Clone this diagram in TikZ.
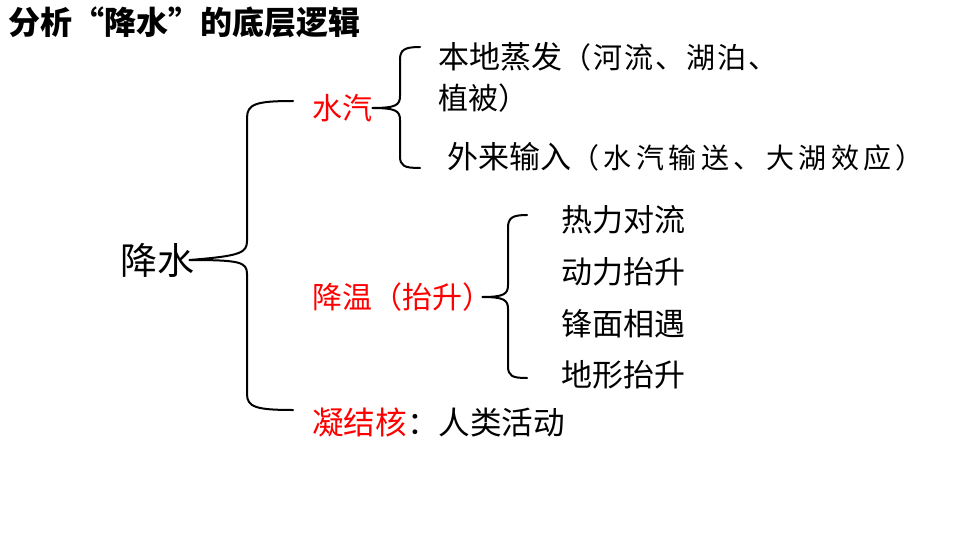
\documentclass[tikz,border=0pt]{standalone}
\usepackage{fontspec}
\setmainfont{Noto Sans CJK SC}
\usepackage{tikz}
\usetikzlibrary{calc}
\usetikzlibrary{positioning}

\begin{document}
\begin{tikzpicture}[x=1pt, y=-1pt,
    txt/.style={anchor=west, inner sep=0pt, font=\fontsize{31}{36}\selectfont},
    hot/.style={txt, text=red},
    brace/.style={line width=2pt, line cap=round, line join=round}]
      \useasboundingbox (0,0) rectangle (960,540);

      % title
      \node[txt, font=\fontsize{32}{36}\selectfont\bfseries] (title) at (8,22) {分析“降水”的底层逻辑};

      % first level
      \node[txt, font=\fontsize{37}{40}\selectfont] (root) at (120,260) {降水};
      \node[hot, font=\fontsize{30}{36}\selectfont] (vapor) at (312,108) {水汽};
      \node[hot, font=\fontsize{30}{36}\selectfont] (cool) at (312,297) {降温（抬升）};
      \node[txt, font=\fontsize{31.6}{36}\selectfont] (nuclei) at (312,422) {\textcolor{red}{凝结核}：人类活动};

      % water vapour sources
      \node[txt] (local) at (438,57) {本地蒸发{\fontsize{29}{36}\selectfont\addfontfeature{LetterSpace=7}（河流、湖泊、}};
      \node[txt, font=\fontsize{30}{36}\selectfont] (localb) at (438,98) {植被）};
      \node[txt] (extern) at (447,157) {外来输入{\fontsize{28}{36}\selectfont\addfontfeature{LetterSpace=16}（水汽输送、大湖效应）}};

      % ways of lifting
      \foreach \name/\label [count=\i] in {thermal/热力对流, dynamic/动力抬升, front/锋面相遇, terrain/地形抬升}{
        \node[txt] (\name) at (561, {220 + 51.7*(\i-1)}) {\label};
      }

      % brace ends
      \coordinate (tip0) at ([xshift=-5pt]root.east);
      \coordinate (a0) at (293,101);
      \coordinate (z0) at (293,410);
      \coordinate (tip1) at (vapor.east);
      \coordinate (a1) at (420,47);
      \coordinate (z1) at (420,168);
      \coordinate (tip2) at ([xshift=-10pt]cool.east);
      \coordinate (a2) at (527,215);
      \coordinate (z2) at (527,378);

      \draw[brace] (a0) .. controls (256,101) and (247,104) .. (247,118) -- (247,241)
        .. controls (247,253) and (240,256) .. (tip0)
        .. controls (240,260) and (247,262) .. (247,274) -- (247,394)
        .. controls (247,407) and (256,410) .. (z0);

      \draw[brace] (a1) .. controls (404,47) and (400,50) .. (400,60) -- (400,96)
        .. controls (400,105) and (396,108) .. (tip1)
        .. controls (396,108) and (400,111) .. (400,120) -- (400,156)
        .. controls (400,166) and (404,168) .. (z1);

      \draw[brace] (a2) .. controls (512,215) and (508,218) .. (508,228) -- (508,285)
        .. controls (508,294) and (504,297) .. (tip2)
        .. controls (504,297) and (508,300) .. (508,309) -- (508,366)
        .. controls (508,376) and (512,378) .. (z2);

    \end{tikzpicture}
\end{document}
